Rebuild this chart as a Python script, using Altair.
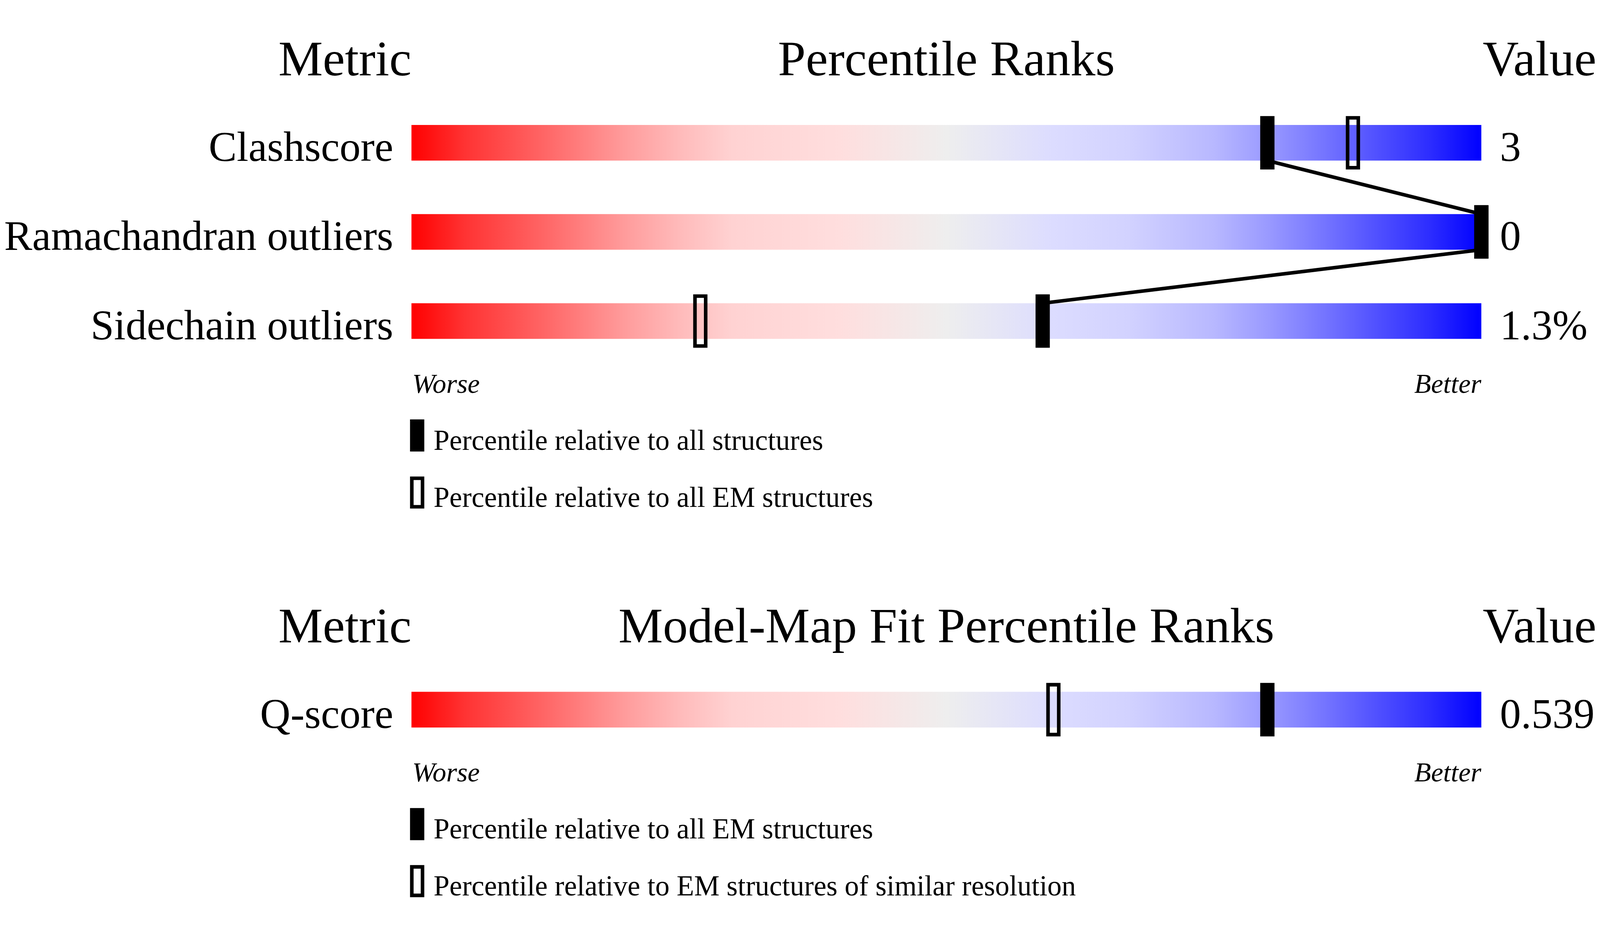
import altair as alt
import pandas as pd

# ---------------- data ----------------
metrics = ["Clashscore", "Ramachandran outliers", "Sidechain outliers", "Q-score"]
metric_panel = [0, 0, 0, 1]
metric_row = [0, 1, 2, 0]
value_labels = ["3", "0", "1.3%", "0.539"]
pct_solid = [80, 100, 59, 80]   # filled markers
pct_open = [88, 100, 27, 60]    # open markers

panel_titles = ["Percentile Ranks", "Model-Map Fit Percentile Ranks"]
left_header = ["Metric", "Metric"]
right_header = ["Value", "Value"]
legend_solid = ["Percentile relative to all structures",
                "Percentile relative to all EM structures"]
legend_open = ["Percentile relative to all EM structures",
               "Percentile relative to EM structures of similar resolution"]
worse_better = ["Worse", "Better"]

gradient_offsets = [0.0, 0.05, 0.1, 0.15, 0.2, 0.25, 0.3, 0.4, 0.5, 0.6, 0.67, 0.75, 0.8, 0.85, 0.9, 0.95, 1.0]
gradient_colors = ["#ff0000", "#ff3333", "#ff5555", "#ff7878", "#ff9c9c", "#ffbaba", "#ffd2d2",
                   "#ffdede", "#eeeeee", "#dcdcff", "#d2d2ff", "#b8b8ff", "#9a9aff", "#7777ff",
                   "#5252ff", "#2e2eff", "#0000ff"]

# ---------------- layout ----------------
W, H = 4469, 2386
X0 = 1145          # pixel of percentile 0
PX = 30            # pixels per percentile unit
ROW_STEP = 250
PANEL_Y = [278, 1868]
SERIF = "Liberation Serif"

rows = pd.DataFrame({
    "metric": metrics,
    "panel": metric_panel,
    "row": metric_row,
    "value": value_labels,
    "solid": pct_solid,
    "open": pct_open,
})
rows["lo"] = 0
rows["hi"] = 100
rows["ymid"] = [PANEL_Y[p] + r * ROW_STEP for p, r in zip(metric_panel, metric_row)]
rows["bar_top"] = rows["ymid"] - 50
rows["bar_bot"] = rows["ymid"] + 50
rows["mk_top"] = rows["ymid"] - 70
rows["mk_bot"] = rows["ymid"] + 70
rows["txt"] = rows["ymid"] + 51

segs = []
for i in range(len(metrics) - 1):
    if metric_panel[i] == metric_panel[i + 1]:
        segs.append({"x1": pct_solid[i], "x2": pct_solid[i + 1],
                     "y1": rows["bar_bot"][i], "y2": rows["bar_top"][i + 1]})
segs = pd.DataFrame(segs)

panels = []
for p in range(2):
    last = rows[rows["panel"] == p]["ymid"].max()
    first = rows[rows["panel"] == p]["ymid"].min()
    panels.append({
        "title": panel_titles[p], "lh": left_header[p], "rh": right_header[p],
        "head": first - 189, "wb": last + 201,
        "l1_top": last + 281, "l1_bot": last + 361,
        "l2_top": last + 441, "l2_bot": last + 521,
        "leg1": legend_solid[p], "leg2": legend_open[p],
        "worse": worse_better[0], "better": worse_better[1],
        "lo": 0, "mid": 50, "hi": 100,
    })
panels = pd.DataFrame(panels)

xs = alt.Scale(domain=[-X0 / PX, (W - X0) / PX], nice=False, zero=False)
ys = alt.Scale(domain=[0, H], reverse=True, nice=False, zero=False)


def X(f):
    return alt.X(f, type="quantitative", scale=xs, axis=None)


def Y(f):
    return alt.Y(f, type="quantitative", scale=ys, axis=None)


grad = alt.Gradient(
    gradient="linear",
    stops=[alt.GradientStop(color=c, offset=o) for o, c in zip(gradient_offsets, gradient_colors)],
    x1=0, x2=1, y1=0, y2=0,
)

bars = alt.Chart(rows).mark_rect(fill=grad).encode(
    x=X("lo"), x2=alt.X2("hi"), y=Y("bar_top"), y2=alt.Y2("bar_bot"))

lines = alt.Chart(segs).mark_rule(color="black", strokeWidth=10).encode(
    x=X("x1"), x2=alt.X2("x2"), y=Y("y1"), y2=alt.Y2("y2"))

open_mk = alt.Chart(rows).mark_rect(
    filled=False, stroke="black", strokeWidth=10, xOffset=-15, x2Offset=15
).encode(x=X("open"), x2=alt.X2("open"), y=Y("mk_top"), y2=alt.Y2("mk_bot"))

solid_mk = alt.Chart(rows).mark_rect(
    color="black", stroke="black", strokeWidth=10, xOffset=-15, x2Offset=15
).encode(x=X("solid"), x2=alt.X2("solid"), y=Y("mk_top"), y2=alt.Y2("mk_bot"))

labels = alt.Chart(rows).mark_text(
    align="right", baseline="alphabetic", font=SERIF, fontSize=118, dx=-51, color="black"
).encode(x=X("lo"), y=Y("txt"), text="metric:N")

vals = alt.Chart(rows).mark_text(
    align="left", baseline="alphabetic", font=SERIF, fontSize=118, dx=52, color="black"
).encode(x=X("hi"), y=Y("txt"), text="value:N")

head_l = alt.Chart(panels).mark_text(
    align="right", baseline="alphabetic", font=SERIF, fontSize=140, color="black"
).encode(x=X("lo"), y=Y("head"), text="lh:N")
head_c = alt.Chart(panels).mark_text(
    align="center", baseline="alphabetic", font=SERIF, fontSize=140, color="black"
).encode(x=X("mid"), y=Y("head"), text="title:N")
head_r = alt.Chart(panels).mark_text(
    align="left", baseline="alphabetic", font=SERIF, fontSize=140, dx=4, color="black"
).encode(x=X("hi"), y=Y("head"), text="rh:N")

worse = alt.Chart(panels).mark_text(
    align="left", baseline="alphabetic", font=SERIF, fontSize=77, fontStyle="italic", dx=2, color="black"
).encode(x=X("lo"), y=Y("wb"), text="worse:N")
better = alt.Chart(panels).mark_text(
    align="right", baseline="alphabetic", font=SERIF, fontSize=77, fontStyle="italic", color="black"
).encode(x=X("hi"), y=Y("wb"), text="better:N")

leg1_mk = alt.Chart(panels).mark_rect(
    color="black", stroke="black", strokeWidth=10, xOffset=1, x2Offset=31
).encode(x=X("lo"), x2=alt.X2("lo"), y=Y("l1_top"), y2=alt.Y2("l1_bot"))
leg2_mk = alt.Chart(panels).mark_rect(
    filled=False, stroke="black", strokeWidth=10, xOffset=1, x2Offset=31
).encode(x=X("lo"), x2=alt.X2("lo"), y=Y("l2_top"), y2=alt.Y2("l2_bot"))
leg1_t = alt.Chart(panels).mark_text(
    align="left", baseline="alphabetic", font=SERIF, fontSize=80, dx=62, color="black"
).encode(x=X("lo"), y=Y("l1_bot"), text="leg1:N")
leg2_t = alt.Chart(panels).mark_text(
    align="left", baseline="alphabetic", font=SERIF, fontSize=80, dx=62, color="black"
).encode(x=X("lo"), y=Y("l2_bot"), text="leg2:N")

chart = alt.layer(
    bars, lines, open_mk, solid_mk, labels, vals, head_l, head_c, head_r,
    worse, better, leg1_mk, leg2_mk, leg1_t, leg2_t
).properties(
    width=W, height=H, autosize=alt.AutoSizeParams(type="none"), padding=0,
    background="white"
).configure_view(strokeWidth=0)

chart.save("out.html", embed_options={"renderer": "svg", "actions": False})
